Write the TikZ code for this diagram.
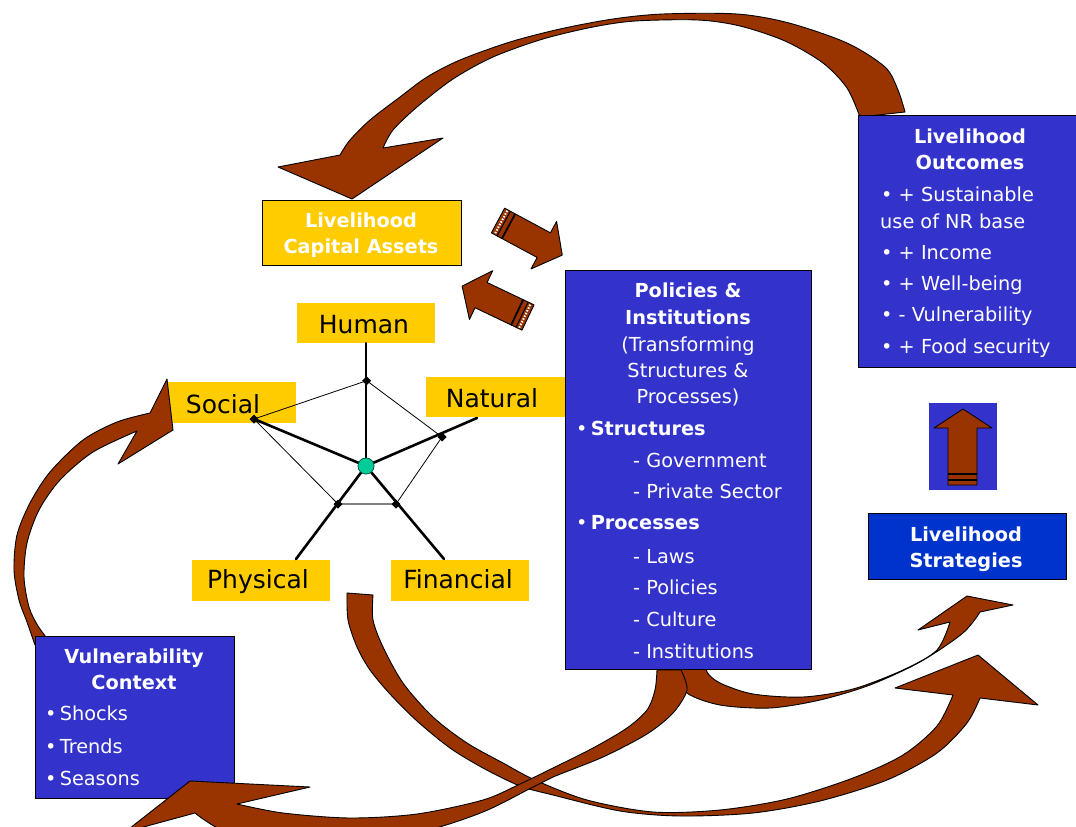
\documentclass[tikz,border=0pt]{standalone}
\usepackage{fontspec}
\setmainfont{DejaVu Sans}
\definecolor{assetyellow}{HTML}{FFCC00}
\definecolor{panelblue}{HTML}{3333CC}
\definecolor{stratblue}{HTML}{0033CC}
\definecolor{arrowbrown}{HTML}{993300}
\definecolor{hubgreen}{HTML}{00CC99}
\tikzset{
  brownarrow/.style={fill=arrowbrown, draw=black, line width=0.9pt, line join=round},
  labelbox/.style={fill=assetyellow, inner sep=0pt},
  panel/.style={fill=panelblue, draw=black, line width=0.8pt, inner sep=0pt},
  panelhead/.style={text=white, font=\fontsize{19.3}{23}\selectfont\bfseries, inner sep=0pt},
  panelline/.style={text=white, font=\fontsize{19.3}{23}\selectfont, inner sep=0pt, anchor=base west},
  assetname/.style={text=black, font=\fontsize{25}{30}\selectfont, inner sep=0pt, anchor=base},
  spoke/.style={line width=2.6pt, line cap=round},
  rim/.style={line width=0.8pt},
}
\newcommand{\stripedarrow}[3]{%
  \begin{scope}[shift={(#1,#2)}, rotate=#3]
    \filldraw[brownarrow] (0,-14) -- (52,-14) -- (52,-27) -- (73,0) -- (52,27) -- (52,14) -- (0,14) -- cycle;
    \draw[white, line width=2pt, dash pattern=on 1.5pt off 1.5pt] (3.5,-13) -- (3.5,13);
    \draw[black, line width=1pt] (6.5,-14) -- (6.5,14);
    \draw[black, line width=1.8pt] (12,-14) -- (12,14);
  \end{scope}}
\begin{document}
\begin{tikzpicture}[x=1pt, y=-1pt]
\useasboundingbox (0,0) rectangle (1076,827);
\clip (0,0) rectangle (1076,827);
\fill[white] (0,0) rectangle (1076,827);

% ---------- asset boxes ----------
\node[labelbox, draw=black, line width=1pt, minimum width=199pt, minimum height=65pt] (cap) at (361.5,232.5) {};
\node[labelbox, minimum width=138pt, minimum height=40pt] (human) at (366,323) {};
\node[labelbox, minimum width=129pt, minimum height=41pt] (social) at (231.5,402.5) {};
\node[labelbox, minimum width=140pt, minimum height=40pt] (natural) at (496,397) {};
\node[labelbox, minimum width=138pt, minimum height=41pt] (physical) at (261,580.5) {};
\node[labelbox, minimum width=138pt, minimum height=41pt] (financial) at (460,580.5) {};

\node[panelhead, anchor=base] (capA) at (361,227) {Livelihood};
\node[panelhead, anchor=base] (capB) at (361,253) {Capital Assets};
\node[assetname] (humanT) at (364,333) {Human};
\node[assetname] (socialT) at (223,413) {Social};
\node[assetname] (naturalT) at (492,407) {Natural};
\node[assetname] (physicalT) at (258,588) {Physical};
\node[assetname] (financialT) at (458,588) {Financial};

% ---------- asset pentagon ----------
\coordinate (mTop) at (366.7,380.7);
\coordinate (mSoc) at (254,419);
\coordinate (mNat) at (442,437);
\coordinate (mPhy) at (338,504);
\coordinate (mFin) at (396,504);
\coordinate (eNat) at (477,418);
\coordinate (ePhy) at (296,559);
\coordinate (eFin) at (444,559);
\draw[rim] (mPhy) -- (mSoc) -- (mTop) -- (mNat) -- (mFin);
\draw[rim, draw=gray, line width=1.6pt] (mPhy) -- (mFin);
\node[circle, fill=hubgreen, draw=black!60!hubgreen, line width=0.6pt, minimum size=16pt, inner sep=0pt] (hub) at (366,466) {};
\draw[spoke] (hub) -- (human.south);
\draw[spoke] (hub) -- (mSoc);
\draw[spoke] (hub) -- (eNat);
\draw[spoke] (hub) -- (ePhy);
\draw[spoke] (hub) -- (eFin);
\foreach \m in {mTop,mSoc,mNat,mPhy,mFin}
  \fill[black] (\m) +(-4.5,0) -- +(0,-4.5) -- +(4.5,0) -- +(0,4.5) -- cycle;
\node[circle, fill=hubgreen, draw=black!60!hubgreen, line width=0.6pt, minimum size=16pt, inner sep=0pt] (hubtop) at (hub) {};

% ---------- curved arrows ----------
% outcomes back to capital assets
\filldraw[brownarrow]
  plot[smooth] coordinates {(905,112) (898,90) (885,67) (847,43) (789,23) (737,14) (663,14) (613,19) (560,29) (510,42) (460,60) (427,77) (400,97) (370,120) (350,140) (340,155)}
  -- (278,167) -- (352,199) -- (443,138) -- (383,148)
  -- plot[smooth] coordinates {(383,148) (393,130) (417,107) (453,79) (493,57) (543,39) (593,27) (635,21) (698,20) (740,26) (785,41) (823,63) (847,88) (860,117)}
  -- cycle;
% vulnerability to social
\filldraw[brownarrow]
  plot[smooth] coordinates {(35,645) (27,622) (19,600) (14,570) (17,535) (30,503) (50,472) (83,440) (117,422) (150,413)}
  -- (167,379) -- (173,430) -- (118,464) -- (137,431)
  -- plot[smooth] coordinates {(137,431) (93,452) (60,480) (39,510) (27,543) (24,577) (29,607) (38,626) (50,642)}
  -- cycle;
% assets to strategies
\filldraw[brownarrow]
  plot[smooth] coordinates {(347,593) (348,620) (357,647) (370,670) (390,694) (417,721) (450,748) (483,768) (520,786) (553,795) (620,811) (680,816) (753,813) (820,801) (887,780) (937,753) (967,723) (980,698)}
  -- (1038,705) -- (978,655) -- (895,688) -- (953,695)
  -- plot[smooth] coordinates {(953,695) (937,726) (903,755) (853,778) (787,799) (720,810) (653,812) (587,800) (535,780) (503,763) (467,743) (433,717) (403,683) (383,647) (373,620) (373,595)}
  -- cycle;
% policies to strategies
\filldraw[brownarrow]
  plot[smooth] coordinates {(677,660) (677,672) (687,693) (720,705) (770,708) (820,700) (870,685) (920,662) (963,633) (980,612)}
  -- (1013,605) -- (967,596) -- (918,630) -- (950,622)
  -- plot[smooth] coordinates {(950,622) (937,650) (903,670) (853,689) (803,697) (753,694) (720,683) (707,672) (707,660)}
  -- cycle;

% ---------- straight arrows between assets and policies ----------
\stripedarrow{498}{220.5}{-28.3}
\stripedarrow{528}{317.5}{154.5}

% ---------- blue panels ----------
\node[panel, minimum width=246pt, minimum height=399pt] (policies) at (688,469.5) {};
\node[panel, minimum width=226pt, minimum height=252pt] (outcomes) at (971,241) {};
\node[panel, fill=stratblue, minimum width=198pt, minimum height=66pt] (strategies) at (967,546) {};
\node[panel, minimum width=199pt, minimum height=162pt] (vulnerability) at (134.5,717) {};
\node[fill=panelblue, inner sep=0pt, minimum width=68pt, minimum height=87pt] (upbox) at (963,446.5) {};

% arrow inside the small panel
\filldraw[brownarrow, line width=0.8pt] (948,485) -- (948,428) -- (934,428) -- (963,409) -- (992,428) -- (977,428) -- (977,485) -- cycle;
\draw[black, line width=2pt] (948,474) -- (977,474);
\draw[black, line width=2pt] (948,480) -- (977,480);

% policies text
\node[panelhead, anchor=base] (po1) at (688,297) {Policies \&};
\node[panelhead, anchor=base] (po2) at (688,324) {Institutions};
\node[panelline, anchor=base] (po3) at (688,351) {(Transforming};
\node[panelline, anchor=base] (po4) at (688,377) {Structures \&};
\node[panelline, anchor=base] (po5) at (688,403) {Processes)};
\node[panelline] (po6) at (576,435) {•\,\textbf{Structures}};
\node[panelline] (po7) at (633,467) {- Government};
\node[panelline] (po8) at (633,498) {- Private Sector};
\node[panelline] (po9) at (576,529) {•\,\textbf{Processes}};
\node[panelline] (po10) at (633,563) {- Laws};
\node[panelline] (po11) at (633,594) {- Policies};
\node[panelline] (po12) at (633,626) {- Culture};
\node[panelline] (po13) at (633,658) {- Institutions};

% outcomes text
\node[panelhead, anchor=base] (ou1) at (970,143) {Livelihood};
\node[panelhead, anchor=base] (ou2) at (970,169) {Outcomes};
\node[panelline] (ou3) at (881,201) {• + Sustainable};
\node[panelline] (ou4) at (880,228) {use of NR base};
\node[panelline] (ou5) at (881,259) {• + Income};
\node[panelline] (ou6) at (881,290) {• + Well-being};
\node[panelline] (ou7) at (881,321) {• - Vulnerability};
\node[panelline] (ou8) at (881,353) {• + Food security};

% strategies text
\node[panelhead, anchor=base] (st1) at (966,541) {Livelihood};
\node[panelhead, anchor=base] (st2) at (966,567) {Strategies};

% vulnerability text
\node[panelhead, anchor=base] (vu1) at (134,663) {Vulnerability};
\node[panelhead, anchor=base] (vu2) at (134,689) {Context};
\node[panelline] (vu3) at (45,720) {•\,Shocks};
\node[panelline] (vu4) at (45,753) {•\,Trends};
\node[panelline] (vu5) at (45,785) {•\,Seasons};

% policies down to vulnerability (drawn over the panel corner)
\filldraw[brownarrow]
  plot[smooth] coordinates {(657,670) (655,690) (647,710) (627,728) (593,748) (553,768) (520,784) (483,800) (417,814) (350,818) (283,813) (237,804)}
  -- (310,787) -- (190,781) -- (125,832) -- (195,813)
  -- plot[smooth] coordinates {(195,813) (235,835) (330,845) (420,832) (483,812) (533,787) (553,777) (603,757) (647,734) (673,713) (687,690) (681,670)}
  -- cycle;
\end{tikzpicture}
\end{document}
